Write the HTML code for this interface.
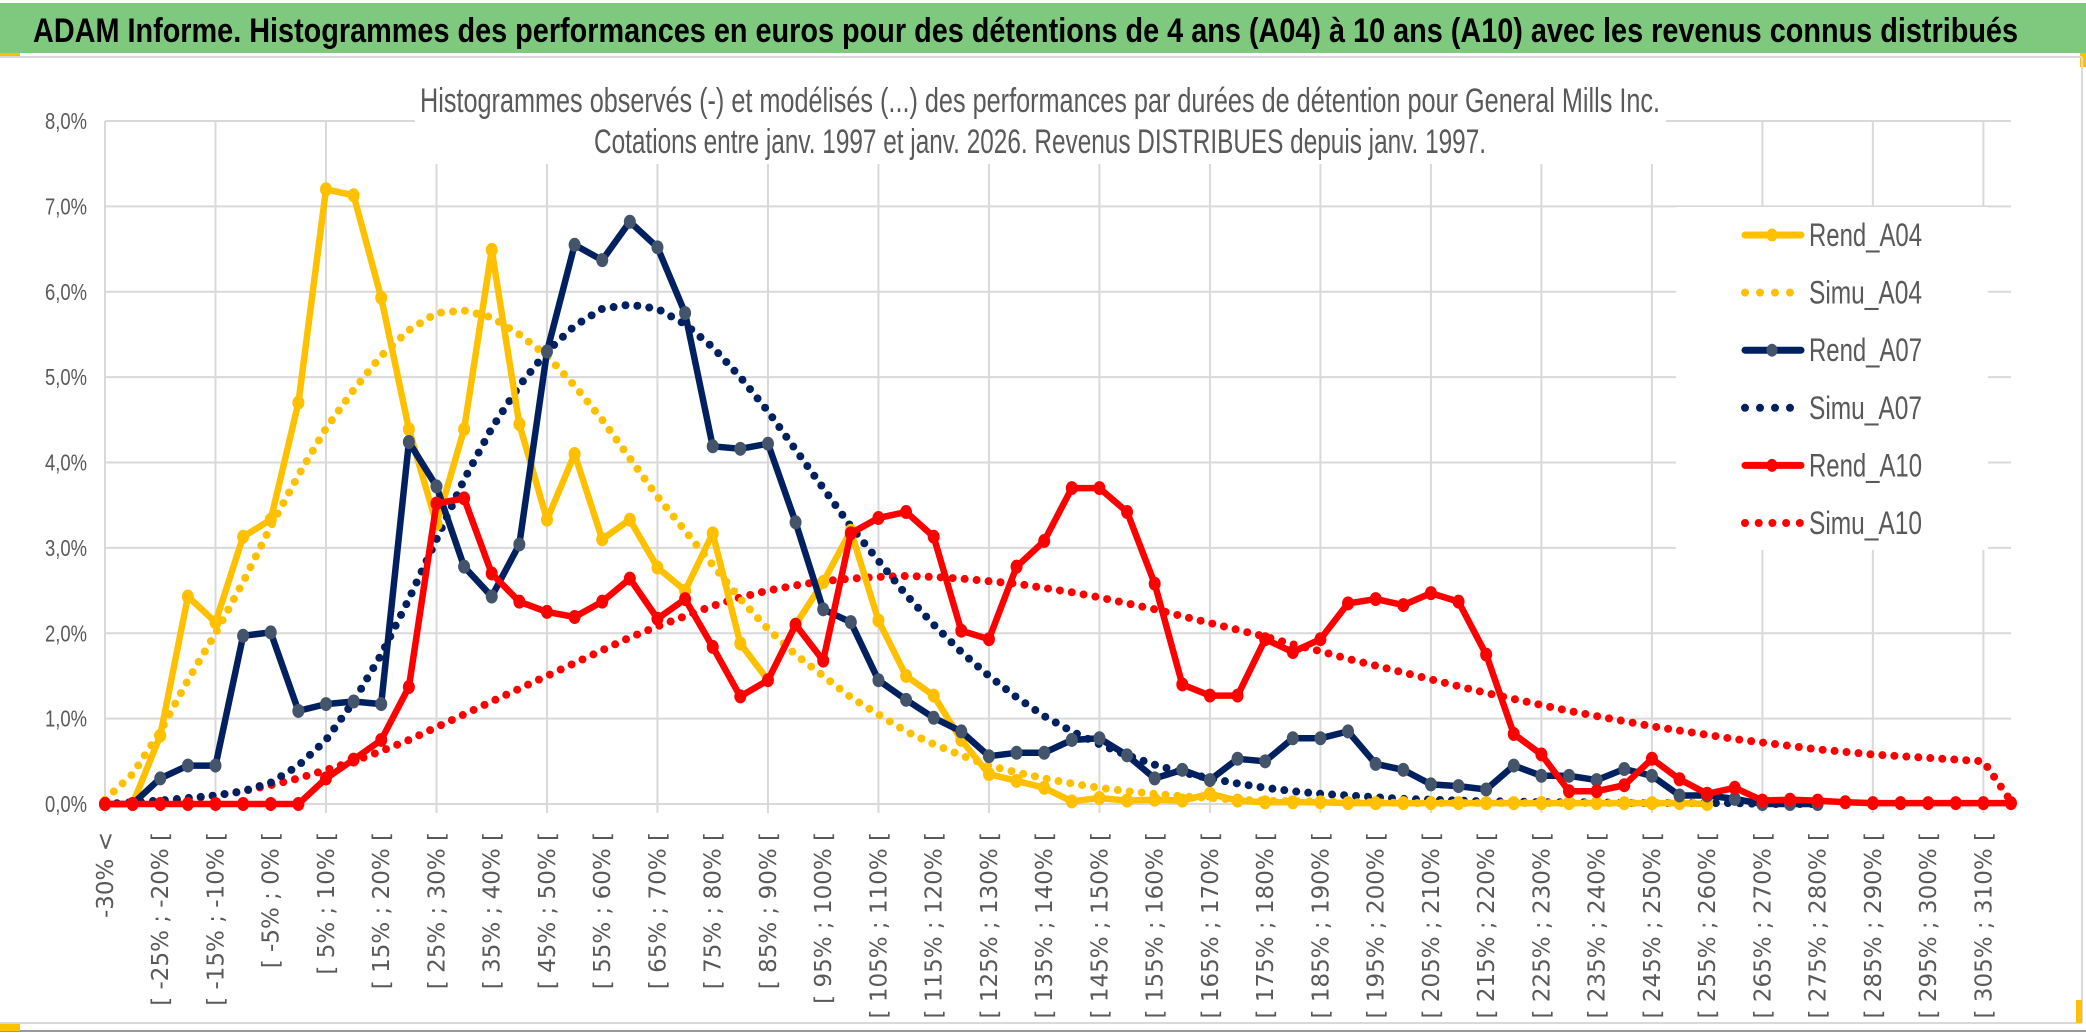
<!DOCTYPE html>
<html><head><meta charset="utf-8"><style>
html,body{margin:0;padding:0;background:#fff;}
svg{display:block;}
</style></head><body>
<svg id="chart" width="2086" height="1033" viewBox="0 0 2086 1033" xmlns="http://www.w3.org/2000/svg">
<rect x="0" y="0" width="2086" height="1033" fill="#fff"/>
<rect x="0" y="3" width="2086" height="50" fill="#7fc97f"/>
<rect x="0" y="53" width="20" height="3" fill="#ffc000"/>
<rect x="2080" y="53" width="6" height="14" fill="#ffc000"/>
<line x1="0" y1="57" x2="2082" y2="57" stroke="#d9d9d9" stroke-width="2"/>
<line x1="2082" y1="57" x2="2082" y2="1023" stroke="#d9d9d9" stroke-width="2"/>
<line x1="0" y1="1023" x2="2082" y2="1023" stroke="#d9d9d9" stroke-width="2"/>
<line x1="0" y1="1031" x2="2086" y2="1031" stroke="#999" stroke-width="2"/>
<rect x="0" y="1024" width="20" height="7" fill="#ffc000"/>
<rect x="2076" y="1000" width="6" height="23" fill="#ffc000"/>
<text x="33" y="42" font-family="'Liberation Sans Narrow','Liberation Sans',sans-serif" font-weight="bold" font-size="34" fill="#000" textLength="1985" lengthAdjust="spacingAndGlyphs">ADAM Informe. Histogrammes des performances en euros pour des détentions de 4 ans (A04) à 10 ans (A10) avec les revenus connus distribués</text>
<g id="grid"></g>
<g id="ylabels"></g>
<g id="xlabels"></g>
<rect x="415" y="72" width="1251" height="92" fill="#fff"/>
<text x="1040" y="112" text-anchor="middle" font-family="'Liberation Sans Narrow','Liberation Sans',sans-serif" font-size="34" fill="#595959" textLength="1240" lengthAdjust="spacingAndGlyphs">Histogrammes observés (-) et modélisés (...) des performances par durées de détention pour General Mills Inc.</text>
<text x="1040" y="153" text-anchor="middle" font-family="'Liberation Sans Narrow','Liberation Sans',sans-serif" font-size="34" fill="#595959" textLength="892" lengthAdjust="spacingAndGlyphs">Cotations entre janv. 1997 et janv. 2026. Revenus DISTRIBUES depuis janv. 1997.</text>
<g id="series"></g>
<rect x="1676" y="207" width="312" height="343" fill="#fff"/>
<g id="legend"></g>
</svg>
<script>
const categoryLabels = ["-30% <","[ -30% ; -25% [","[ -25% ; -20% [","[ -20% ; -15% [","[ -15% ; -10% [","[ -10% ; -5% [","[ -5% ; 0% [","[ 0% ; 5% [","[ 5% ; 10% [","[ 10% ; 15% [","[ 15% ; 20% [","[ 20% ; 25% [","[ 25% ; 30% [","[ 30% ; 35% [","[ 35% ; 40% [","[ 40% ; 45% [","[ 45% ; 50% [","[ 50% ; 55% [","[ 55% ; 60% [","[ 60% ; 65% [","[ 65% ; 70% [","[ 70% ; 75% [","[ 75% ; 80% [","[ 80% ; 85% [","[ 85% ; 90% [","[ 90% ; 95% [","[ 95% ; 100% [","[ 100% ; 105% [","[ 105% ; 110% [","[ 110% ; 115% [","[ 115% ; 120% [","[ 120% ; 125% [","[ 125% ; 130% [","[ 130% ; 135% [","[ 135% ; 140% [","[ 140% ; 145% [","[ 145% ; 150% [","[ 150% ; 155% [","[ 155% ; 160% [","[ 160% ; 165% [","[ 165% ; 170% [","[ 170% ; 175% [","[ 175% ; 180% [","[ 180% ; 185% [","[ 185% ; 190% [","[ 190% ; 195% [","[ 195% ; 200% [","[ 200% ; 205% [","[ 205% ; 210% [","[ 210% ; 215% [","[ 215% ; 220% [","[ 220% ; 225% [","[ 225% ; 230% [","[ 230% ; 235% [","[ 235% ; 240% [","[ 240% ; 245% [","[ 245% ; 250% [","[ 250% ; 255% [","[ 255% ; 260% [","[ 260% ; 265% [","[ 265% ; 270% [","[ 270% ; 275% [","[ 275% ; 280% [","[ 280% ; 285% [","[ 285% ; 290% [","[ 290% ; 295% [","[ 295% ; 300% [","[ 300% ; 305% [","[ 305% ; 310% [","[ 310% ; 315% ["];
const yTicks = [0,1,2,3,4,5,6,7,8];
const yTickLabels = ["0,0%","1,0%","2,0%","3,0%","4,0%","5,0%","6,0%","7,0%","8,0%"];
const rendA04 = [0,0,0.8,2.43,2.13,3.13,3.33,4.7,7.2,7.13,5.93,4.39,3.28,4.39,6.49,4.45,3.33,4.1,3.1,3.33,2.77,2.5,3.17,1.88,1.45,2.1,2.6,3.2,2.15,1.5,1.27,0.75,0.35,0.27,0.19,0.03,0.07,0.04,0.05,0.04,0.12,0.04,0.02,0.02,0.02,0.01,0.01,0.01,0.01,0.01,0.01,0.01,0.01,0.01,0.01,0.01,0.01,0.01,0,null,null,null,null,null,null,null,null,null,null,null];
const simuA04 = [0.05,0.35,0.85,1.45,2.0,2.6,3.25,3.85,4.4,4.85,5.25,5.55,5.75,5.78,5.7,5.5,5.25,4.9,4.5,4.05,3.6,3.2,2.8,2.4,2.05,1.75,1.5,1.25,1.05,0.85,0.7,0.57,0.45,0.37,0.3,0.24,0.19,0.15,0.12,0.09,0.07,0.05,0.04,0.03,0.03,0.02,0.02,0.01,0.01,0.01,0.01,0.01,0.01,0.01,0.01,0.01,0.01,0.01,0.01,null,null,null,null,null,null,null,null,null,null,null];
const rendA07 = [0,0,0.3,0.45,0.45,1.97,2.01,1.09,1.17,1.2,1.17,4.24,3.72,2.78,2.43,3.04,5.3,6.55,6.37,6.82,6.52,5.75,4.19,4.16,4.22,3.3,2.28,2.13,1.45,1.22,1.01,0.85,0.56,0.6,0.6,0.75,0.77,0.57,0.3,0.4,0.28,0.53,0.5,0.77,0.77,0.85,0.47,0.4,0.23,0.21,0.17,0.45,0.33,0.33,0.28,0.41,0.33,0.1,0.1,0.06,0,0,0,null,null,null,null,null,null,null];
const simuA07 = [0,0.02,0.04,0.07,0.1,0.15,0.25,0.45,0.75,1.2,1.75,2.4,3.1,3.8,4.4,4.9,5.3,5.6,5.8,5.85,5.8,5.62,5.35,5.0,4.6,4.15,3.7,3.25,2.85,2.45,2.1,1.78,1.5,1.25,1.03,0.85,0.7,0.57,0.46,0.37,0.3,0.24,0.19,0.15,0.12,0.1,0.08,0.06,0.05,0.04,0.03,0.03,0.02,0.02,0.02,0.01,0.01,0.01,0.01,0.01,0,0,0,null,null,null,null,null,null,null];
const rendA10 = [0,0,0,0,0,0,0,0,0.3,0.52,0.75,1.37,3.52,3.58,2.7,2.37,2.25,2.19,2.37,2.64,2.17,2.4,1.84,1.26,1.45,2.1,1.68,3.17,3.35,3.42,3.13,2.03,1.93,2.78,3.08,3.7,3.7,3.42,2.58,1.4,1.27,1.27,1.93,1.78,1.93,2.35,2.4,2.33,2.47,2.37,1.75,0.82,0.58,0.15,0.15,0.22,0.53,0.29,0.12,0.19,0.04,0.05,0.04,0.02,0.01,0.01,0.01,0.01,0.01,0.01];
const simuA10 = [0,0.01,0.03,0.06,0.1,0.15,0.22,0.3,0.4,0.5,0.62,0.75,0.9,1.05,1.2,1.35,1.5,1.65,1.8,1.95,2.08,2.2,2.32,2.42,2.5,2.56,2.61,2.64,2.66,2.67,2.66,2.64,2.61,2.58,2.53,2.48,2.42,2.35,2.28,2.2,2.12,2.04,1.96,1.87,1.79,1.7,1.62,1.54,1.46,1.38,1.3,1.23,1.16,1.09,1.03,0.97,0.91,0.86,0.81,0.76,0.72,0.68,0.64,0.61,0.58,0.56,0.54,0.52,0.5,0.03];

const NS="http://www.w3.org/2000/svg";
const X0=105, X1=2011, Y0=804, Y8=121;
function xPos(i){return X0+(X1-X0)*i/(categoryLabels.length-1);}
function yPos(v){return Y0-(Y0-Y8)*v/8;}
function mk(tag,attrs,parent){const e=document.createElementNS(NS,tag);for(const k in attrs)e.setAttribute(k,attrs[k]);parent.appendChild(e);return e;}

const grid=document.getElementById('grid');
yTicks.forEach(t=>{
  const l=mk('line',{x1:X0,x2:X1,y1:yPos(t),y2:yPos(t),stroke:'#d9d9d9','stroke-width':2},grid);
  
  
});
for(let i=0;i<categoryLabels.length;i+=4){
  const l=mk('line',{x1:xPos(i),x2:xPos(i),y1:Y8,y2:Y0+9,stroke:'#d9d9d9','stroke-width':2},grid);
  
  
}
const yl=document.getElementById('ylabels');
yTicks.forEach((t,k)=>{
  const tx=mk('text',{x:87,y:yPos(t)+8,'text-anchor':'end','font-family':"'Liberation Sans Narrow','Liberation Sans',sans-serif",'font-size':23,fill:'#595959',textLength:42,lengthAdjust:'spacingAndGlyphs'},yl);
  tx.textContent=yTickLabels[k];
  
  
});
const xl=document.getElementById('xlabels');
categoryLabels.forEach((c,i)=>{
  if(i%2!==0)return;
  const x=xPos(i)+8;
  const tx=mk('text',{x:x,y:832,transform:`rotate(-90 ${x} 832)`,'text-anchor':'end','font-family':"'DejaVu Sans',sans-serif",'font-size':23,fill:'#595959'},xl);
  tx.textContent=c;
  
  
});

const series=document.getElementById('series');
function pathFor(arr){let d='';let pen=false;arr.forEach((v,i)=>{if(v===null){pen=false;return;}d+=(pen?'L':'M')+xPos(i).toFixed(1)+' '+yPos(v).toFixed(1)+' ';pen=true;});return d;}
function dotted(arr,color,name){
  const p=mk('path',{d:pathFor(arr),fill:'none',stroke:color,'stroke-width':8,'stroke-linecap':'round','stroke-dasharray':'0 12'},series);
  
  
}
function solid(arr,color,mcolor,name){
  const p=mk('path',{d:pathFor(arr),fill:'none',stroke:color,'stroke-width':6.5,'stroke-linejoin':'round'},series);
  
  
  arr.forEach((v,i)=>{if(v===null)return;
    const c=mk('ellipse',{cx:xPos(i),cy:yPos(v),rx:6,ry:7,fill:mcolor},series);
    
    
  });
}
dotted(simuA10,'#ff0000','simu-a10-line');
dotted(simuA07,'#002060','simu-a07-line');
dotted(simuA04,'#ffc000','simu-a04-line');
solid(rendA04,'#ffc000','#ffc000','rend-a04-line');
solid(rendA07,'#002060','#44546a','rend-a07-line');
solid(rendA10,'#ff0000','#ff0000','rend-a10-line');

const legendItems=[["Rend_A04","#ffc000","#ffc000",false],["Simu_A04","#ffc000","",true],["Rend_A07","#002060","#44546a",false],["Simu_A07","#002060","",true],["Rend_A10","#ff0000","#ff0000",false],["Simu_A10","#ff0000","",true]];
const lg=document.getElementById('legend');
legendItems.forEach((it,k)=>{
  const y=235+k*57.6;
  const g=mk('g',{},lg);
  
  
  if(it[3]){
    const n=it[0]==='Simu_A10'?5:4;
    for(let j=0;j<n;j++)mk('circle',{cx:1745+j*(it[0]==='Simu_A10'?13.7:15),cy:y,r:4,fill:it[1]},g);
  }else{
    mk('line',{x1:1745,x2:1801,y1:y,y2:y,stroke:it[1],'stroke-width':7,'stroke-linecap':'round'},g);
    mk('ellipse',{cx:1772,cy:y,rx:5.5,ry:6.5,fill:it[2]},g);
  }
  const t=mk('text',{x:1809,y:y+11,'font-family':"'Liberation Sans Narrow','Liberation Sans',sans-serif",'font-size':32,fill:'#595959',textLength:113,lengthAdjust:'spacingAndGlyphs'},g);
  t.textContent=it[0];
});
</script>
</body></html>
